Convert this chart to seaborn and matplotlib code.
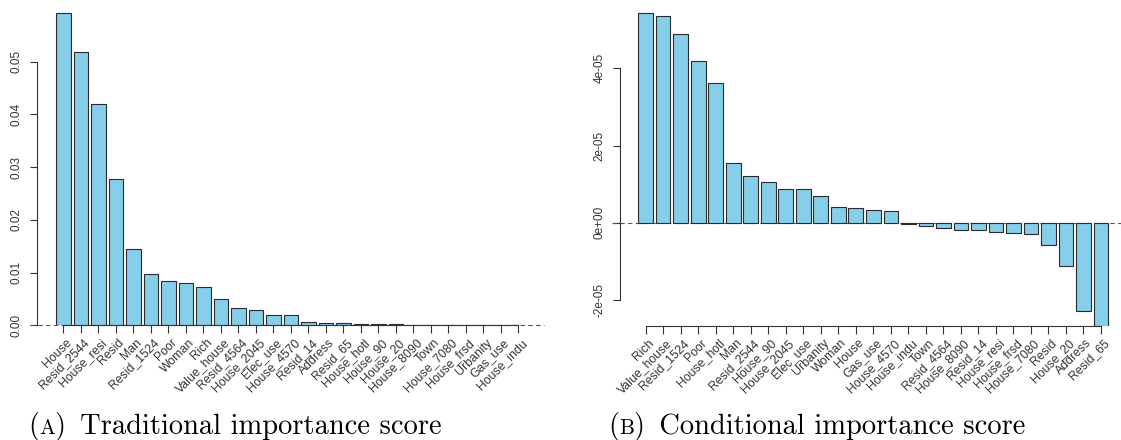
import matplotlib
matplotlib.use("Agg")
import matplotlib.pyplot as plt
from matplotlib.transforms import ScaledTranslation
import pandas as pd
import seaborn as sns

# ---- data -------------------------------------------------------------
trad_vars = ["House", "Resid_2544", "House_resi", "Resid", "Man", "Resid_1524",
             "Poor", "Woman", "Rich", "Value_house", "Resid_4564", "House_2045",
             "Elec_use", "House_4570", "Resid_14", "Address", "Resid_65",
             "House_hotl", "House_90", "House_20", "House_8090", "Town",
             "House_7080", "House_frsd", "Urbanity", "Gas_use", "House_indu"]
trad_scores = [0.0592, 0.0518, 0.0419, 0.0278, 0.01453, 0.00967,
               0.00835, 0.00808, 0.00732, 0.00493, 0.00322, 0.00285,
               0.00195, 0.00195, 0.00068, 0.00044, 0.00042,
               0.00030, 0.00020, 0.00018, 0.00015, 0.00006,
               0.00004, 0.00003, 0.00003, 0.00002, 0.00002]

cond_vars = ["Rich", "Value_house", "Resid_1524", "Poor", "House_hotl", "Man",
             "Resid_2544", "House_90", "House_2045", "Elec_use", "Urbanity",
             "Woman", "House", "Gas_use", "House_4570", "House_indu", "Town",
             "Resid_4564", "House_8090", "Resid_14", "House_resi", "House_frsd",
             "House_7080", "Resid", "House_20", "Address", "Resid_65"]
cond_scores = [5.42e-5, 5.36e-5, 4.89e-5, 4.18e-5, 3.61e-5, 1.54e-5,
               1.21e-5, 1.05e-5, 0.865e-5, 0.865e-5, 0.68e-5,
               0.40e-5, 0.37e-5, 0.32e-5, 0.295e-5, -0.034e-5, -0.08e-5,
               -0.145e-5, -0.197e-5, -0.197e-5, -0.233e-5, -0.26e-5,
               -0.30e-5, -0.585e-5, -1.13e-5, -2.295e-5, -2.668e-5]

trad_yticks = [0.00, 0.01, 0.02, 0.03, 0.04, 0.05]
trad_ylabels = ["0.00", "0.01", "0.02", "0.03", "0.04", "0.05"]
cond_yticks = [-2e-5, 0.0, 2e-5, 4e-5]
cond_ylabels = ["-2e-05", "0e+00", "2e-05", "4e-05"]

# ---- style ------------------------------------------------------------
sns.set_theme(style="white")
plt.rcParams["font.family"] = ["Liberation Sans", "DejaVu Sans"]

W, H, DPI = 1121, 440, 100
fig = plt.figure(figsize=(W / DPI, H / DPI), dpi=DPI)
fig.patch.set_facecolor("white")

BAR = "#87CEEB"
EDGE = "#2b2b2b"
AXC = "#333333"
TXT = "#333333"


def px_axes(left, top, right, bottom):
    return fig.add_axes([left / W, 1 - bottom / H, (right - left) / W, (bottom - top) / H])


def panel(ax, names, scores, ylim, yticks, ylabels):
    df = pd.DataFrame({"var": names, "score": scores})
    sns.barplot(data=df, x="var", y="score", order=names, color=BAR,
                saturation=1, edgecolor=EDGE, linewidth=0.8,
                width=1 / 1.2, ax=ax, zorder=2)
    n = len(names)
    ax.set_xlim(-1.49, n - 1 + 1.49)
    ax.set_ylim(*ylim)
    ax.set_xlabel("")
    ax.set_ylabel("")
    ax.set_facecolor("white")

    # R-style axes: lines only between the first and last tick
    for s in ("top", "right"):
        ax.spines[s].set_visible(False)
    ax.spines["left"].set_bounds(yticks[0], yticks[-1])
    ax.spines["bottom"].set_bounds(0, n - 1)
    for s in ("left", "bottom"):
        ax.spines[s].set_color(AXC)
        ax.spines[s].set_linewidth(0.8)

    ax.set_yticks(yticks, ylabels)
    ax.tick_params(axis="y", length=5.3, width=0.8, color=AXC, pad=5.0,
                   labelsize=8.5, labelcolor=TXT, left=True)
    for lab in ax.get_yticklabels():
        lab.set_rotation(90)
        lab.set_va("center")
        lab.set_ha("right")

    ax.set_xticks(range(n))
    ax.set_xticklabels(names, rotation=45, ha="right", va="baseline",
                       rotation_mode="anchor")
    ax.tick_params(axis="x", length=5.8, width=0.8, color=AXC, pad=7.0,
                   labelsize=8.8, labelcolor=TXT, bottom=True)
    shift = ScaledTranslation(8.7 / DPI, 0, fig.dpi_scale_trans)
    for lab in ax.get_xticklabels():
        lab.set_transform(lab.get_transform() + shift)

    # dashed reference line at zero
    ax.axhline(0, xmin=-0.015, xmax=1.0, color="#555555", lw=0.8,
               ls=(0, (4, 3)), clip_on=False, zorder=1)
    ax.grid(False)


ax1 = px_axes(37.3, 5, 544.4, 325.3)
panel(ax1, trad_vars, trad_scores, (0, 0.06075), trad_yticks, trad_ylabels)

ax2 = px_axes(619.6, 5, 1127, 325.7)
panel(ax2, cond_vars, cond_scores, (-2.668e-5, 5.64e-5), cond_yticks, cond_ylabels)


# ---- sub-captions with a small-caps letter ----------------------------
def caption(x_px, baseline_px, letter, rest, size=20.5):
    fam = ["cmr10", "DejaVu Serif"]
    y = 1 - baseline_px / H
    renderer = fig.canvas.get_renderer()
    t1 = fig.text(x_px / W, y, "(", family=fam, fontsize=size,
                  va="baseline", ha="left", color="black")
    bb = t1.get_window_extent(renderer)
    t2 = fig.text(bb.x1 / W, y, letter, family=fam, fontsize=size * 0.74,
                  va="baseline", ha="left", color="black")
    bb2 = t2.get_window_extent(renderer)
    fig.text(bb2.x1 / W, y, ")\u2002" + rest, family=fam, fontsize=size,
             va="baseline", ha="left", color="black")


caption(28.3, 434.3, "A", "Traditional importance score")
caption(608.3, 434.3, "B", "Conditional importance score")

fig.savefig("out.png", dpi=DPI, facecolor="white")
